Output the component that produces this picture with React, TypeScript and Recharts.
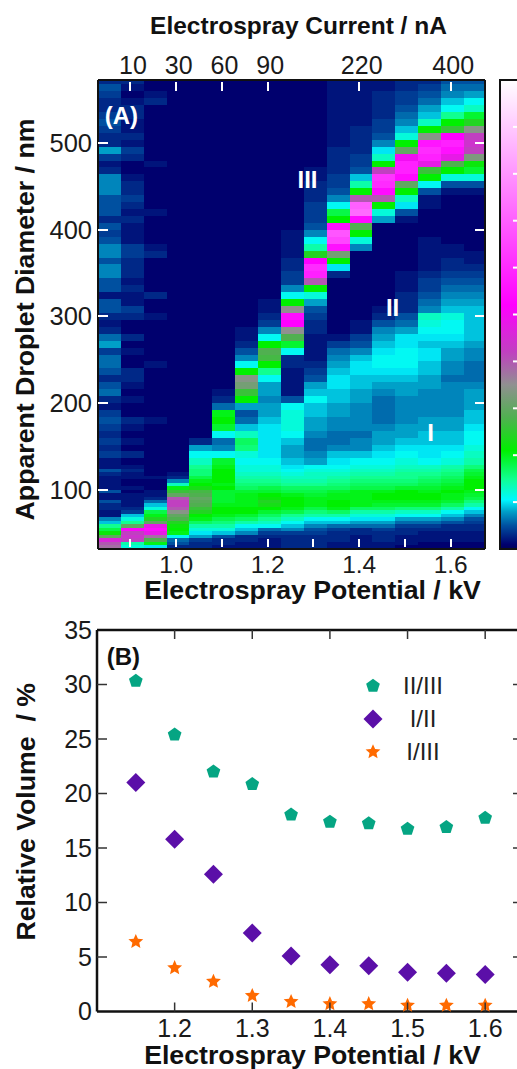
import { Bar, Cell, ComposedChart, Legend, Line, ReferenceDot, Scatter, ScatterChart, XAxis, YAxis } from 'recharts'

// panel A: relative intensity (%) per size bin, lowest diameter first, one array per potential
const col085 = [38,40,46,30,22,18,15,9,7,2,2,3,3,5,2,2,5,2,2,2,2,3,5,2, 2,4,3,4,3,4,5,4,2,3,6,5,3,5,6,6,4,8,6,3,2,3, 5,5,2,5,5,7,7,5,7,7,5,4,5,3,5,5,5,7,7,7,3,2,4,8,3,3,4,5,4,3,3,4,5,3]
const col090 = [12,14,42,44,42,52,30,15,12,9,4,3,2,2,2,2,1,2,1,1,2,2,3,2, 1,3,1,2,1,2,3,1,1,2,1,2,3,3,1,1,2,1,3,1,1,3, 4,2,2,3,2,3,3,3,4,4,2,2,2,3,2,3,4,3,3,2,1,1,3,4,2,3,2,2,3,3,2,1,2,3]
const col095 = [10,20,28,38,48,54,48,30,24,20,18,12,9,6,3,2,2,1,1,1,2,1,1,1, 1,1,1,1,1,1,2,1,1,1,1,1,1,1,2,1,1,1,1,1,1,2, 1,1,3,1,1,1,1,1,3,2,1,1,1,1,2,1,1,1,1,1,1,2,1,1,1,1,1,1,1,1,3,2,1,1]
const col100 = [3,5,6,11,20,21,22,24,28,30,34,40,42,42,40,30,26,20,13,7,3,2,1,1, 1,1,1,1,1,1,1,1,1,1,1,1,1,1,1,1,1,1,1,1,1,1, 1,1,1,1,1,1,1,1,1,1,1,1,1,1,1,1,1,1,1,1,1,1,1,1,1,1,1,1,1,1,1,1,1,1]
const col105 = [3,3,4,8,10,12,14,17,20,21,24,26,28,29,30,28,27,23,21,20,18,16,16,15, 13,11,8,3,1,1,1,1,1,1,1,1,1,1,1,1,1,1,1,1,1,1, 1,1,1,1,1,1,1,1,1,1,1,1,1,1,1,1,1,1,1,1,1,1,1,1,1,1,1,1,1,1,1,1,1,1]
const col110 = [2,3,3,5,9,12,14,16,18,20,21,21,20,19,19,19,19,21,20,21,21,21,21,20, 19,11,7,6,11,19,21,20,6,3,2,1,1,1,1,1,1,1,1,1,1,1, 1,1,1,1,1,1,1,1,1,1,1,1,1,1,1,1,1,1,1,1,1,1,1,1,1,1,1,1,1,1,1,1,1,1]
const col115 = [2,2,3,3,7,9,11,14,17,19,21,21,20,20,20,20,19,17,16,15,14,13,12,12, 11,12,16,17,13,9,6,5,8,21,26,32,34,21,11,7,5,3,2,2,1,1, 1,1,1,1,1,1,1,1,1,1,1,1,1,1,1,1,1,1,1,1,1,1,1,1,1,1,1,1,1,1,1,1,1,1]
const col120 = [2,2,2,3,4,6,11,13,15,17,19,21,23,24,22,21,19,18,16,15,14,13,12,12, 11,10,10,10,10,10,9,8,8,7,8,8,11,15,21,27,28,21,11,7,4,3, 2,2,1,1,1,1,1,1,1,1,1,1,1,1,1,1,1,1,1,1,1,1,1,1,1,1,1,1,1,1,1,1,1,1]
const col125 = [3,3,3,3,4,7,9,11,13,15,18,20,21,21,21,20,18,17,15,14,13,12,11,10, 9,8,8,9,11,12,12,12,11,5,2,2,2,2,3,3,11,19,28,35,52,54, 35,21,11,7,4,4,3,3,2,2,2,2,1,1,1,1,1,1,1,1,1,1,1,1,1,1,1,1,1,1,1,1,1,1]
const col130 = [3,3,3,3,4,5,7,9,11,14,16,18,20,20,20,19,18,17,15,14,13,13,12,11, 8,7,6,6,7,8,8,9,9,11,9,8,5,4,3,2,2,2,2,3,3,4, 5,8,12,21,40,58,60,52,24,14,11,7,5,4,4,4,3,3,3,2,2,1,1,1,1,1,1,1,1,1,1,1,1,1]
const col135 = [2,2,3,3,3,4,6,9,11,14,17,20,21,21,20,20,19,17,16,15,14,13,12,11, 10,9,7,6,6,7,7,8,8,9,9,10,10,9,8,7,6,4,2,1,1,1, 1,1,1,1,1,3,10,21,32,55,65,68,55,21,18,11,7,5,4,4,3,3,3,3,2,2,2,2,2,2,2,2,2,2]
const col140 = [2,2,2,2,3,3,6,8,10,12,14,17,20,20,20,20,20,18,17,16,15,14,13,12, 11,9,7,7,6,7,7,7,7,8,8,9,9,10,10,9,7,5,4,2,2,1, 1,1,1,1,1,1,1,1,1,7,12,21,28,54,72,70,40,21,14,9,5,4,4,3,3,3,3,2,2,2,2,2,2,2]
const col145 = [2,2,3,3,3,4,6,8,10,12,14,17,19,20,21,21,20,18,17,16,15,14,13,12, 11,10,9,8,8,7,6,6,6,6,7,8,9,10,11,11,10,9,8,7,5,3, 2,1,1,1,1,1,1,1,1,1,1,1,1,8,12,21,40,54,60,62,42,21,13,10,7,5,4,4,3,3,3,3,2,2]
const col150 = [1,2,2,2,3,3,4,6,8,11,13,16,19,20,21,21,21,19,17,16,15,15,14,13, 12,11,10,9,8,8,7,7,7,7,8,8,9,10,11,11,11,10,10,8,6,5, 3,3,3,2,2,2,1,1,1,1,1,1,1,2,5,10,13,21,30,54,58,58,50,30,21,12,9,7,6,5,4,4,3,3]
const col155 = [1,1,2,2,2,3,4,6,8,11,13,16,19,20,21,21,20,19,18,17,16,15,14,13, 11,10,10,9,9,8,8,7,7,7,7,8,8,9,9,10,10,9,10,11,12,13, 7,6,5,4,4,3,2,2,2,2,2,1,1,1,1,2,2,5,11,21,26,48,58,60,56,34,21,13,9,8,6,5,4,3]
const col160 = [1,1,2,2,2,3,3,5,7,9,11,14,17,19,20,20,21,20,19,18,17,16,15,14, 12,11,10,9,9,8,8,7,7,7,7,7,6,7,7,8,8,9,10,11,11,12, 9,8,7,6,5,4,3,3,2,2,1,1,1,1,1,1,1,2,5,12,21,28,48,55,58,52,26,21,15,11,9,7,6,5]
const col165 = [1,1,2,2,2,3,3,4,5,7,9,11,14,16,18,19,20,21,21,21,20,19,18,16, 14,13,12,11,11,10,9,9,8,8,8,7,6,6,6,7,7,8,9,9,9,9, 9,8,7,6,5,4,3,2,2,1,1,1,1,1,1,1,1,2,5,12,19,22,33,42,44,42,34,24,19,13,11,8,6,5]

const heatColumns = [col085, col090, col095, col100, col105, col110, col115, col120, col125, col130, col135, col140, col145, col150, col155, col160, col165]
const columnPotential = [0.854, 0.904, 0.954, 1.004, 1.054, 1.104, 1.154, 1.204, 1.254, 1.304, 1.354, 1.404, 1.454, 1.504, 1.554, 1.604, 1.654]

// bin heights in nm, same order as the columns above
const binHeights = [...Array(24).fill(4), ...Array(56).fill(8)]

const potentialTicks = [0.9, 1.0, 1.1, 1.2, 1.3, 1.4, 1.5, 1.6]
const potentialLabels = [1.0, 1.2, 1.4, 1.6]
const currentLabels: Record<string, string> = { '0.9': '10', '1': '30', '1.1': '60', '1.2': '90', '1.4': '220', '1.6': '400' }
const diameterTicks = [100, 200, 300, 400, 500]
const colorbarTicks = [10, 20, 30, 40, 50, 60, 70, 80, 90]

// colour scale: intensity, colour
const intensityStops: [number, string][] = [
  [0, '#00005a'], [1, '#00006e'], [5, '#0050a0'], [8, '#00a0c8'], [10.5, '#00f8ff'], [15, '#10ff90'],
  [21, '#00f000'], [28, '#50b050'], [35, '#909090'], [42, '#c040c0'], [52, '#ff00ff'], [100, '#ffffff'],
]

// panel B
const ratioPotential = [1.15, 1.2, 1.25, 1.3, 1.35, 1.4, 1.45, 1.5, 1.55, 1.6]
const ratioII_III = [30.33, 25.4, 22.0, 20.85, 18.05, 17.4, 17.25, 16.75, 16.9, 17.75]
const ratioI_II = [21.0, 15.8, 12.6, 7.2, 5.1, 4.3, 4.2, 3.6, 3.5, 3.4]
const ratioI_III = [6.4, 4.0, 2.75, 1.45, 0.9, 0.7, 0.7, 0.55, 0.55, 0.55]
const volumeTicks = [0, 5, 10, 15, 20, 25, 30, 35]
const bottomTicks = [1.2, 1.3, 1.4, 1.5, 1.6]

const FONT = '"Liberation Sans", Arial, sans-serif'
const TEAL = '#05a583'
const PURPLE = '#5b0fa8'
const ORANGE = '#ff6a00'

const intensityColor = (v: number) => {
  for (let i = 1; i < intensityStops.length; i++) {
    const [b, cb] = intensityStops[i]
    if (v <= b) {
      const [a, ca] = intensityStops[i - 1]
      const t = (v - a) / (b - a)
      const ch = (p: number) => {
        const s = parseInt(ca.slice(p, p + 2), 16)
        const e = parseInt(cb.slice(p, p + 2), 16)
        return Math.round(s + (e - s) * t)
      }
      return `rgb(${ch(1)},${ch(3)},${ch(5)})`
    }
  }
  return '#ffffff'
}

const heatRows = heatColumns.map((_, i) => {
  const row: Record<string, number> = { kv: columnPotential[i], base: 32 }
  binHeights.forEach((h, b) => { row['b' + b] = h })
  return row
})

const toPoints = (values: number[]) => values.map((v, i) => ({ kv: ratioPotential[i], value: v }))

const Pentagon = ({ cx, cy }: any) => {
  const pts = [0, 1, 2, 3, 4].map((k) => {
    const a = -Math.PI / 2 + (k * 2 * Math.PI) / 5
    return `${cx + 7.2 * Math.cos(a)},${cy + 7.2 * Math.sin(a)}`
  })
  return <polygon points={pts.join(' ')} fill={TEAL} />
}

const Diamond = ({ cx, cy }: any) => (
  <polygon points={`${cx - 9.5},${cy} ${cx},${cy - 9.5} ${cx + 9.5},${cy} ${cx},${cy + 9.5}`} fill={PURPLE} />
)

const Star = ({ cx, cy }: any) => {
  const pts = [...Array(10).keys()].map((k) => {
    const a = -Math.PI / 2 + (k * Math.PI) / 5
    const r = k % 2 ? 3.6 : 7.8
    return `${cx + r * Math.cos(a)},${cy + r * Math.sin(a)}`
  })
  return <polygon points={pts.join(' ')} fill={ORANGE} />
}

const legendItems = [
  { label: 'II/III', Mark: Pentagon },
  { label: 'I/II', Mark: Diamond },
  { label: 'I/III', Mark: Star },
]

const RatioLegend = () => (
  <svg width={110} height={100} style={{ display: 'block' }}>
    {legendItems.map(({ label, Mark }, i) => (
      <g key={label}>
        <Mark cx={18} cy={16 + i * 33} />
        <text x={68} y={24 + i * 33} textAnchor="middle" fontFamily={FONT} fontSize={24} fill="#222">{label}</text>
      </g>
    ))}
  </svg>
)

const textStyle = { fontFamily: FONT, fill: '#1a1a1a' }
const titleStyle = { fontFamily: FONT, fontSize: 26.7, fontWeight: 700, fill: '#111' }

const HeatBottomTick = ({ x, y, payload }: any) => (
  <g>
    <line x1={x} x2={x} y1={y - 2} y2={y - 10} stroke="#fff" strokeWidth={2} />
    {potentialLabels.includes(payload.value) && (
      <text x={x} y={y + 24} textAnchor="middle" fontSize={24.5} style={textStyle}>{payload.value.toFixed(1)}</text>
    )}
  </g>
)

const HeatTopTick = ({ x, y, payload }: any) => (
  <g>
    <line x1={x} x2={x} y1={y + 2} y2={y + 11} stroke="#fff" strokeWidth={2} />
    <text x={x + 2.5} y={y - 6} textAnchor="middle" fontSize={25} style={textStyle}>{currentLabels[String(payload.value)]}</text>
  </g>
)

const HeatLeftTick = ({ x, y, payload }: any) => (
  <g>
    <line x1={x} x2={x + 10} y1={y} y2={y} stroke="#fff" strokeWidth={2} />
    <text x={x - 6} y={y + 9} textAnchor="end" fontSize={25.5} style={textStyle}>{payload.value}</text>
  </g>
)

const HeatRightTick = ({ x, y }: any) => <line x1={x - 10} x2={x - 1} y1={y} y2={y} stroke="#fff" strokeWidth={2} />

const ColorbarTick = ({ x, y }: any) => <line x1={x - 12} x2={x} y1={y} y2={y} stroke="#fff" strokeWidth={2} />

const VolumeBottomTick = ({ x, y, payload }: any) => (
  <g>
    <line x1={x} x2={x} y1={y} y2={y - 9} stroke="#333" strokeWidth={1.5} />
    <text x={x} y={y + 25} textAnchor="middle" fontSize={25} style={textStyle}>{payload.value.toFixed(1)}</text>
  </g>
)

const VolumeTopTick = ({ x, y }: any) => <line x1={x} x2={x} y1={y} y2={y + 9} stroke="#333" strokeWidth={1.5} />

const VolumeLeftTick = ({ x, y, payload }: any) => (
  <g>
    {payload.value > 0 && payload.value < 35 && <line x1={x} x2={x + 10} y1={y} y2={y} stroke="#333" strokeWidth={1.5} />}
    <text x={x - 5} y={y + 8.5} textAnchor="end" fontSize={25} style={textStyle}>{payload.value}</text>
  </g>
)

const VolumeRightTick = ({ x, y }: any) => <line x1={x - 11} x2={x} y1={y} y2={y} stroke="#333" strokeWidth={1.5} />

const annotation = (value: string, fill = '#fff', fontSize = 24) => ({
  value,
  position: 'center' as const,
  style: { fontFamily: FONT, fontSize, fontWeight: 700, fill },
})

const frame = { stroke: '#111', strokeWidth: 2.5 }
const kvDomain: [number, number] = [0.829, 1.675]

const HeatmapPanel = () => (
  <div style={{ position: 'absolute', left: 0, top: 0, shapeRendering: 'crispEdges' }}>
    <ComposedChart width={517} height={610} data={heatRows} barCategoryGap={0} barGap={0} margin={{ top: 0, right: 0, bottom: 0, left: 0 }}>
      <YAxis yAxisId="d" type="number" width={98} domain={[31.4, 573]} allowDataOverflow ticks={diameterTicks} interval={0}
        axisLine={frame} tickLine={false} tickSize={0} tickMargin={0} tick={HeatLeftTick}
        label={{ value: 'Apparent Droplet Diameter / nm', angle: -90, position: 'center', dx: -24, dy: 5, style: titleStyle }} />
      <YAxis yAxisId="r" type="number" orientation="right" width={32} domain={[31.4, 573]} allowDataOverflow ticks={diameterTicks} interval={0}
        axisLine={frame} tickLine={false} tickSize={0} tickMargin={0} tick={HeatRightTick} />
      <XAxis xAxisId="kv" type="number" dataKey="kv" orientation="bottom" height={61} domain={kvDomain} allowDataOverflow ticks={potentialTicks} interval={0}
        axisLine={frame} tickLine={false} tickSize={0} tickMargin={0} tick={HeatBottomTick}
        label={{ value: 'Electrospray Potential / kV', position: 'center', dx: 21, dy: 10, style: titleStyle }} />
      <XAxis xAxisId="cur" type="number" dataKey="kv" orientation="top" height={80} domain={kvDomain} allowDataOverflow ticks={potentialTicks.filter((t) => currentLabels[String(t)])} interval={0}
        axisLine={frame} tickLine={false} tickSize={0} tickMargin={0} tick={HeatTopTick}
        label={{ value: 'Electrospray Current / nA', position: 'center', dx: 7, dy: -15, style: { ...titleStyle, fontSize: 24.5 } }} />
      <Line xAxisId="cur" yAxisId="r" dataKey="base" stroke="none" dot={false} isAnimationActive={false} />
      <Bar xAxisId="kv" yAxisId="d" dataKey="base" stackId="s" fill="none" isAnimationActive={false} />
      {binHeights.map((_, b) => (
        <Bar key={b} xAxisId="kv" yAxisId="d" dataKey={'b' + b} stackId="s" isAnimationActive={false}>
          {heatColumns.map((col, c) => <Cell key={c} fill={intensityColor(col[b])} />)}
        </Bar>
      ))}
      <ReferenceDot xAxisId="kv" yAxisId="d" x={0.88} y={532} r={0} label={annotation('(A)')} />
      <ReferenceDot xAxisId="kv" yAxisId="d" x={1.287} y={458} r={0} label={annotation('III')} />
      <ReferenceDot xAxisId="kv" yAxisId="d" x={1.473} y={310} r={0} label={annotation('II')} />
      <ReferenceDot xAxisId="kv" yAxisId="d" x={1.556} y={166} r={0} label={annotation('I')} />
    </ComposedChart>
  </div>
)

const Colorbar = () => (
  <div style={{ position: 'absolute', left: 499, top: 0 }}>
    <ComposedChart width={30} height={600} data={[{ name: 'scale', level: 100 }]} barCategoryGap={0} margin={{ top: 80, right: 0, bottom: 51, left: 1 }}>
      <defs>
        <linearGradient id="intensity" x1="0" y1="1" x2="0" y2="0">
          {intensityStops.map(([v, c]) => <stop key={v} offset={`${v}%`} stopColor={c} />)}
        </linearGradient>
      </defs>
      <XAxis dataKey="name" hide />
      <YAxis type="number" orientation="right" width={4} domain={[0, 100]} ticks={colorbarTicks} interval={0}
        axisLine={false} tickLine={false} tickSize={0} tickMargin={0} tick={ColorbarTick} />
      <Bar dataKey="level" fill="url(#intensity)" stroke="#111" strokeWidth={2} isAnimationActive={false} />
    </ComposedChart>
  </div>
)

const RatioPanel = () => (
  <div style={{ position: 'absolute', left: 0, top: 600 }}>
    <ScatterChart width={540} height={469} margin={{ top: 0, right: 0, bottom: 0, left: 0 }}>
      <XAxis xAxisId="kv" type="number" dataKey="kv" height={57.5} domain={[1.1, 1.65]} ticks={bottomTicks} interval={0}
        axisLine={frame} tickLine={false} tickSize={0} tickMargin={0} tick={VolumeBottomTick}
        label={{ value: 'Electrospray Potential / kV', position: 'center', dx: 2, dy: 14, style: titleStyle }} />
      <XAxis xAxisId="top" type="number" dataKey="kv" orientation="top" height={30} domain={[1.1, 1.65]} ticks={bottomTicks} interval={0}
        axisLine={frame} tickLine={false} tickSize={0} tickMargin={0} tick={VolumeTopTick} />
      <YAxis yAxisId="v" type="number" dataKey="value" width={97} domain={[0, 35]} ticks={volumeTicks} interval={0}
        axisLine={frame} tickLine={false} tickSize={0} tickMargin={0} tick={VolumeLeftTick}
        label={{ value: 'Relative Volume\u00a0 / %', angle: -90, position: 'center', dx: -23, dy: -9, style: titleStyle }} />
      <YAxis yAxisId="r" type="number" dataKey="value" orientation="right" width={16} domain={[0, 35]} ticks={volumeTicks.slice(1, -1)} interval={0}
        axisLine={frame} tickLine={false} tickSize={0} tickMargin={0} tick={VolumeRightTick} />
      <Scatter xAxisId="top" yAxisId="r" data={toPoints(ratioII_III)} shape={() => null} isAnimationActive={false} />
      <Scatter name="II/III" xAxisId="kv" yAxisId="v" data={toPoints(ratioII_III)} shape={Pentagon} isAnimationActive={false} />
      <Scatter name="I/II" xAxisId="kv" yAxisId="v" data={toPoints(ratioI_II)} shape={Diamond} isAnimationActive={false} />
      <Scatter name="I/III" xAxisId="kv" yAxisId="v" data={toPoints(ratioI_III)} shape={Star} isAnimationActive={false} />
      <ReferenceDot xAxisId="kv" yAxisId="v" x={1.134} y={32.6} r={0} label={annotation('(B)', '#111')} />
      <Legend layout="vertical" align="center" verticalAlign="middle" content={RatioLegend}
        wrapperStyle={{ left: 355, top: 70, width: 110 }} />
    </ScatterChart>
  </div>
)

export default function App() {
  return (
    <div style={{ position: 'absolute', left: 0, top: 0, width: 517, height: 1069, overflow: 'hidden', background: '#fff' }}>
      <HeatmapPanel />
      <Colorbar />
      <RatioPanel />
    </div>
  )
}
